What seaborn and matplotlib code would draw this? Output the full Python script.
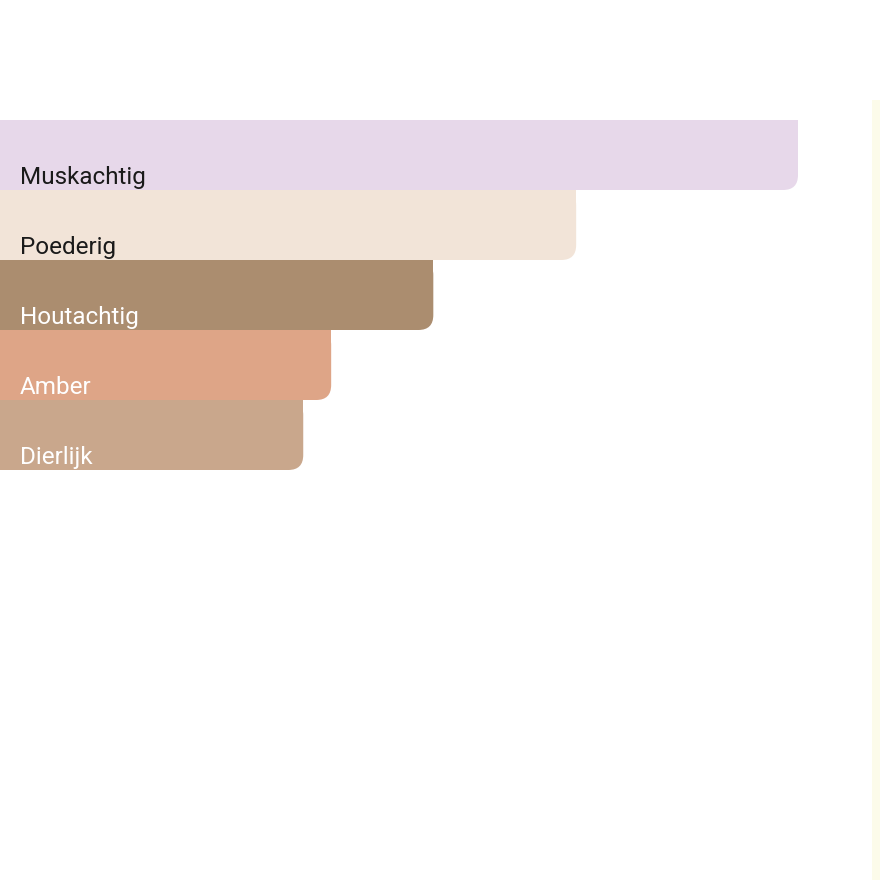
import matplotlib
matplotlib.use("Agg")
import matplotlib.pyplot as plt
import seaborn as sns
import pandas as pd
from matplotlib.patches import FancyBboxPatch, Rectangle

categories = ["Muskachtig", "Poederig", "Houtachtig", "Amber", "Dierlijk"]
values = [100, 72.2, 54.3, 41.5, 38]
colors = ["#e7d8ea", "#f2e4d8", "#ab8d6f", "#dea587", "#c9a78c"]
text_colors = ["#1a1a1a", "#1a1a1a", "#ffffff", "#ffffff", "#ffffff"]

df = pd.DataFrame({"cat": categories, "val": values})

sns.set_theme(style="white")
plt.rcParams["font.family"] = ["Roboto", "DejaVu Sans"]

W = H = 880
fig = plt.figure(figsize=(8.8, 8.8), dpi=100)
ax = fig.add_axes([0, 0, 1, 1])

sns.barplot(data=df, x="val", y="cat", hue="cat", palette=colors, width=1.0,
            orient="h", legend=False, ax=ax, saturation=1)

xmax = 100 * W / 798.0
bar_px = 70.0
top_px = 120.0
ax.set_xlim(0, xmax)
ax.set_ylim(4.5 + (H - (top_px + 5 * bar_px)) / bar_px, -0.5 - top_px / bar_px)

# replace bars with versions whose bottom-right corner is rounded
rx = 15 * xmax / W
ry = 15 / bar_px
for k, (p, c) in enumerate(zip(list(ax.patches), colors)):
    x0, y0 = p.get_x(), p.get_y()
    w, h = p.get_width(), p.get_height()
    p.set_visible(False)
    fb = FancyBboxPatch((x0 - 3 * rx, y0), w + 3 * rx, h,
                        boxstyle=f"round,pad=0,rounding_size={rx}",
                        mutation_aspect=ry / rx, facecolor=c, edgecolor="none",
                        zorder=2 + k * 0.01)
    ax.add_patch(fb)
    top = min(y0, y0 + h)
    ax.add_patch(Rectangle((x0 - 3 * rx, top), w + 3 * rx, abs(h) / 2,
                           facecolor=c, edgecolor="none", zorder=2 + k * 0.01))

for i, (cat, tc) in enumerate(zip(categories, text_colors)):
    ax.text(20 * xmax / W, i + 0.5 - 6 / bar_px, cat, color=tc, fontsize=17.5,
            ha="left", va="baseline", zorder=3)

ax.axis("off")

# faint decorative strip at right edge
fig.patches.append(Rectangle((872 / W, 0), 8 / W, 1 - 100 / H, transform=fig.transFigure,
                             facecolor="#fcfbea", edgecolor="none", zorder=0))

fig.savefig("out.png", dpi=100, facecolor="white")
